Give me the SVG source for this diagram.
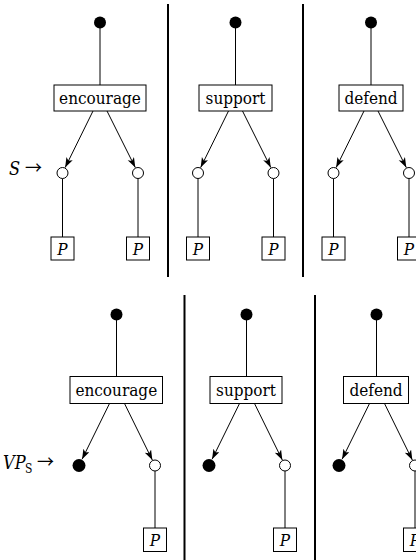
<svg xmlns="http://www.w3.org/2000/svg" width="416" height="560" viewBox="0 0 416 560">
<style>
.ln{stroke:#000;stroke-width:1;fill:none}
.ar{stroke:#000;stroke-width:1;fill:none;marker-end:url(#ah)}
.box{fill:#fff;stroke:#000;stroke-width:1}
.dot{fill:#000}
.oc{fill:#fff;stroke:#000;stroke-width:1}
.div{stroke:#000;stroke-width:2}
.t{font-family:"DejaVu Serif Condensed","DejaVu Serif",serif;font-stretch:condensed;font-size:17px;text-anchor:middle;fill:#000}
.p{font-family:"DejaVu Serif Condensed","DejaVu Serif",serif;font-stretch:condensed;font-style:italic;font-size:17px;text-anchor:middle;fill:#000}
.lb{font-family:"DejaVu Serif Condensed","DejaVu Serif",serif;font-stretch:condensed;font-size:18px;fill:#000}
.arw{font-family:"Noto Sans CJK JP",sans-serif;font-size:17px;fill:#000}
</style>
<defs>
<marker id="ah" markerUnits="userSpaceOnUse" markerWidth="11" markerHeight="8" refX="10" refY="3.5" orient="auto">
<path d="M0,0 L10,3.5 L0,7 L2.5,3.5 Z" fill="#000"/>
</marker>
</defs>
<g id="connectors">
<line class="ln" x1="100" y1="22.5" x2="100" y2="85"/>
<line class="ar" x1="93" y1="111" x2="65.15" y2="167.6"/>
<line class="ar" x1="107" y1="111" x2="135.3" y2="167.6"/>
<line class="ln" x1="62.5" y1="178.5" x2="62.5" y2="237"/>
<line class="ln" x1="138" y1="178.5" x2="138" y2="237"/>
<line class="ln" x1="235.5" y1="22.5" x2="235.5" y2="85"/>
<line class="ar" x1="228.5" y1="111" x2="200.65" y2="167.6"/>
<line class="ar" x1="242.5" y1="111" x2="270.8" y2="167.6"/>
<line class="ln" x1="198" y1="178.5" x2="198" y2="237"/>
<line class="ln" x1="273.5" y1="178.5" x2="273.5" y2="237"/>
<line class="ln" x1="371" y1="22.5" x2="371" y2="85"/>
<line class="ar" x1="364" y1="111" x2="336.15" y2="167.6"/>
<line class="ar" x1="378" y1="111" x2="406.3" y2="167.6"/>
<line class="ln" x1="333.5" y1="178.5" x2="333.5" y2="237"/>
<line class="ln" x1="409" y1="178.5" x2="409" y2="237"/>
<line class="ln" x1="116.5" y1="314.5" x2="116.5" y2="376.5"/>
<line class="ar" x1="109.5" y1="403.5" x2="82.1" y2="459.2"/>
<line class="ar" x1="124.5" y1="403.5" x2="152.35" y2="460.1"/>
<line class="ln" x1="155" y1="471" x2="155" y2="528"/>
<line class="ln" x1="246.5" y1="314.5" x2="246.5" y2="376.5"/>
<line class="ar" x1="239.5" y1="403.5" x2="212.1" y2="459.2"/>
<line class="ar" x1="254.5" y1="403.5" x2="282.35" y2="460.1"/>
<line class="ln" x1="285" y1="471" x2="285" y2="528"/>
<line class="ln" x1="376.5" y1="314.5" x2="376.5" y2="376.5"/>
<line class="ar" x1="369.5" y1="403.5" x2="342.1" y2="459.2"/>
<line class="ar" x1="384.5" y1="403.5" x2="412.35" y2="460.1"/>
<line class="ln" x1="415" y1="471" x2="415" y2="528"/>
</g>
<g id="dividers">
<line class="div" x1="168" y1="4" x2="168" y2="277"/>
<line class="div" x1="303" y1="4" x2="303" y2="277"/>
<line class="div" x1="184.5" y1="295" x2="184.5" y2="560"/>
<line class="div" x1="315" y1="295" x2="315" y2="560"/>
</g>
<g id="labels">
<text class="lb" x="9" y="175" font-style="italic">S</text>
<text class="arw" x="25" y="174">→</text>
<text class="lb" x="3" y="469" font-style="italic">VP</text>
<text class="lb" x="25" y="473" style="font-size:12px">S</text>
<text class="arw" x="37" y="468">→</text>
</g>
<g id="top-encourage">
<circle class="dot" cx="100" cy="22.5" r="6"/>
<rect class="box" x="54" y="85" width="92" height="26"/>
<text class="t" x="100" y="104">encourage</text>
<circle class="oc" cx="62.5" cy="173" r="5.5"/>
<circle class="oc" cx="138" cy="173" r="5.5"/>
<rect class="box" x="51" y="237" width="23" height="23"/>
<text class="p" x="62.5" y="254.5">P</text>
<rect class="box" x="126.5" y="237" width="23" height="23"/>
<text class="p" x="138" y="254.5">P</text>
</g>
<g id="top-support">
<circle class="dot" cx="235.5" cy="22.5" r="6"/>
<rect class="box" x="199" y="85" width="73" height="26"/>
<text class="t" x="235.5" y="104">support</text>
<circle class="oc" cx="198" cy="173" r="5.5"/>
<circle class="oc" cx="273.5" cy="173" r="5.5"/>
<rect class="box" x="186.5" y="237" width="23" height="23"/>
<text class="p" x="198" y="254.5">P</text>
<rect class="box" x="262" y="237" width="23" height="23"/>
<text class="p" x="273.5" y="254.5">P</text>
</g>
<g id="top-defend">
<circle class="dot" cx="371" cy="22.5" r="6"/>
<rect class="box" x="339" y="85" width="64" height="26"/>
<text class="t" x="371" y="104">defend</text>
<circle class="oc" cx="333.5" cy="173" r="5.5"/>
<circle class="oc" cx="409" cy="173" r="5.5"/>
<rect class="box" x="322" y="237" width="23" height="23"/>
<text class="p" x="333.5" y="254.5">P</text>
<rect class="box" x="397.5" y="237" width="23" height="23"/>
<text class="p" x="409" y="254.5">P</text>
</g>
<g id="bottom-encourage">
<circle class="dot" cx="116.5" cy="314.5" r="6"/>
<rect class="box" x="70" y="376.5" width="92.5" height="27"/>
<text class="t" x="116.3" y="396">encourage</text>
<circle class="dot" cx="79" cy="465.5" r="6.5"/>
<circle class="oc" cx="155" cy="465.5" r="5.5"/>
<rect class="box" x="143.5" y="528" width="23" height="23.5"/>
<text class="p" x="155" y="546">P</text>
</g>
<g id="bottom-support">
<circle class="dot" cx="246.5" cy="314.5" r="6"/>
<rect class="box" x="210" y="376.5" width="72" height="27"/>
<text class="t" x="246" y="396">support</text>
<circle class="dot" cx="209" cy="465.5" r="6.5"/>
<circle class="oc" cx="285" cy="465.5" r="5.5"/>
<rect class="box" x="273.5" y="528" width="23" height="23.5"/>
<text class="p" x="285" y="546">P</text>
</g>
<g id="bottom-defend">
<circle class="dot" cx="376.5" cy="314.5" r="6"/>
<rect class="box" x="343.5" y="376.5" width="65" height="27"/>
<text class="t" x="376" y="396">defend</text>
<circle class="dot" cx="339" cy="465.5" r="6.5"/>
<circle class="oc" cx="415" cy="465.5" r="5.5"/>
<rect class="box" x="403.5" y="528" width="23" height="23.5"/>
<text class="p" x="415" y="546">P</text>
</g>
</svg>
